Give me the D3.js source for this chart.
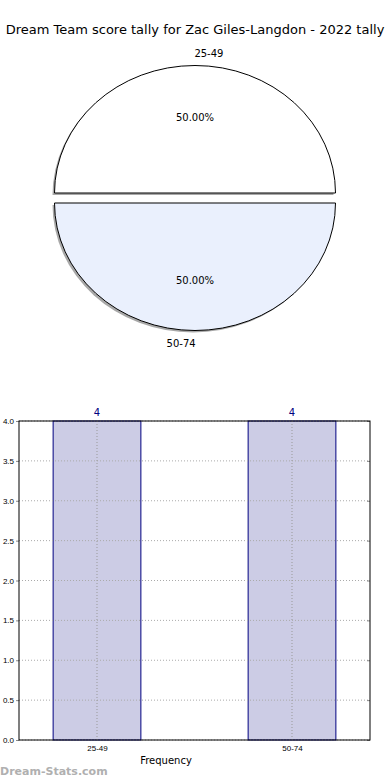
<!DOCTYPE html>
<html>
<head>
<meta charset="utf-8">
<script src="https://cdn.jsdelivr.net/npm/d3@7"></script>
<style>
	body { margin: 0; background: #fff; }
	svg { display: block; font-family: "DejaVu Sans", sans-serif; }
</style>
</head>
<body>
<div id="chart-area"></div>
<script>
// Chart data
var titleText  = "Dream Team score tally for Zac Giles-Langdon - 2022 tally";
var categories = ["25-49", "50-74"];
var counts     = [4, 4];
var pieColors  = ["#ffffff", "#eaf0fd"];
var yTicks     = [0, 0.5, 1, 1.5, 2, 2.5, 3, 3.5, 4];

var W = 390, H = 780;

var svg = d3.select("#chart-area")
	.append("svg")
		.attr("width", W)
		.attr("height", H);

// Title
svg.append("text")
	.attr("x", 195)
	.attr("y", 34)
	.attr("text-anchor", "middle")
	.attr("font-size", "13px")
	.text(titleText);


// ---- Pie (elliptical, exploded) ----
var cx = 195, cy = 198, rx = 140.5, ry = 127.5, explode = 5;
var pie = d3.pie().sort(null).startAngle(-Math.PI / 2).endAngle(1.5 * Math.PI);
var arcs = pie(counts);
var arc = d3.arc().innerRadius(0).outerRadius(rx);
var total = d3.sum(counts);

var pieG = svg.append("g")
	.attr("transform", "translate(" + cx + "," + cy + ")");

function sliceOffset(d) {
	var mid = (d.startAngle + d.endAngle) / 2;
	return [Math.sin(mid) * explode, -Math.cos(mid) * explode];
}

// shadows first
pieG.selectAll("path.shadow")
	.data(arcs)
	.enter()
	.append("path")
		.attr("class", "shadow")
		.attr("d", arc)
		.attr("fill", "#999")
		.attr("opacity", 0.85)
		.attr("transform", function(d) {
			var o = sliceOffset(d);
			return "translate(" + (o[0] - 2) + "," + (o[1] + 2) + ") scale(1," + (ry / rx) + ")";
		});

pieG.selectAll("path.slice")
	.data(arcs)
	.enter()
	.append("path")
		.attr("class", "slice")
		.attr("d", arc)
		.attr("fill", function(d, i) { return pieColors[i]; })
		.attr("stroke", "#000")
		.attr("stroke-width", 1)
		.attr("vector-effect", "non-scaling-stroke")
		.attr("transform", function(d) {
			var o = sliceOffset(d);
			return "translate(" + o[0] + "," + o[1] + ") scale(1," + (ry / rx) + ")";
		});

// percentage labels
pieG.selectAll("text.pct")
	.data(arcs)
	.enter()
	.append("text")
		.attr("class", "pct")
		.attr("x", function(d) { var mid = (d.startAngle + d.endAngle) / 2; return Math.sin(mid) * rx * 0.6 + sliceOffset(d)[0]; })
		.attr("y", function(d) { var mid = (d.startAngle + d.endAngle) / 2; return -Math.cos(mid) * ry * 0.6 + sliceOffset(d)[1] + 4; })
		.attr("text-anchor", "middle")
		.attr("font-size", "10px")
		.text(function(d) { return (100 * d.value / total).toFixed(2) + "%"; });

// category labels (slightly rotated position like the original)
pieG.selectAll("text.cat")
	.data(arcs)
	.enter()
	.append("text")
		.attr("class", "cat")
		.attr("x", function(d) { var mid = (d.startAngle + d.endAngle) / 2 + 0.09; return Math.sin(mid) * rx * 1.1; })
		.attr("y", function(d) { var mid = (d.startAngle + d.endAngle) / 2 + 0.09; return -Math.cos(mid) * ry * 1.14 + 4; })
		.attr("text-anchor", "middle")
		.attr("font-size", "10px")
		.text(function(d, i) { return categories[i]; });


// ---- Bar chart ----
var margin = { top: 421, left: 19, right: 20, bottom: 40 };
var bw = W - margin.left - margin.right;
var bh = 740 - margin.top;

var g = svg.append("g")
	.attr("transform", "translate(" + margin.left + "," + margin.top + ")");

var x = d3.scaleLinear().domain([-0.4, 1.4]).range([0, bw]);
var y = d3.scaleLinear().domain([0, 4]).range([bh, 0]);
var barWidth = 0.45;

// bars
g.selectAll("rect.bar")
	.data(counts)
	.enter()
	.append("rect")
		.attr("class", "bar")
		.attr("x", function(d, i) { return x(i - barWidth / 2); })
		.attr("width", x(barWidth) - x(0))
		.attr("y", function(d) { return y(d); })
		.attr("height", function(d) { return bh - y(d); })
		.attr("fill", "#ccccE5")
		.attr("stroke", "#000080")
		.attr("stroke-width", 1);

// grid lines (drawn over bars)
g.selectAll("line.hgrid")
	.data(yTicks)
	.enter()
	.append("line")
		.attr("class", "hgrid")
		.attr("x1", 0).attr("x2", bw)
		.attr("y1", function(d) { return y(d); })
		.attr("y2", function(d) { return y(d); })
		.attr("stroke", "#aaa")
		.attr("stroke-dasharray", "1,2");

g.selectAll("line.vgrid")
	.data(categories)
	.enter()
	.append("line")
		.attr("class", "vgrid")
		.attr("x1", function(d, i) { return x(i); })
		.attr("x2", function(d, i) { return x(i); })
		.attr("y1", 0).attr("y2", bh)
		.attr("stroke", "#999")
		.attr("stroke-dasharray", "1,2");

// y axis
var yAxis = d3.axisLeft(y)
	.tickValues(yTicks)
	.tickSize(3)
	.tickPadding(2)
	.tickFormat(d3.format(".1f"));
var yAxisG = g.append("g").call(yAxis);
yAxisG.select(".domain").remove();
yAxisG.selectAll("text").attr("font-size", "8px").attr("font-family", "'Liberation Sans', sans-serif").attr("fill", "#000");
yAxisG.selectAll("line").attr("stroke", "#888");

// right ticks (inside)
var yAxisR = d3.axisLeft(y).tickValues(yTicks).tickSize(3).tickFormat("");
var yAxisRG = g.append("g").attr("transform", "translate(" + bw + ",0)").call(yAxisR);
yAxisRG.select(".domain").remove();
yAxisRG.selectAll("line").attr("stroke", "#888");

// x axis
var xAxis = d3.axisBottom(x)
	.tickValues([0, 1])
	.tickSize(0)
	.tickPadding(5)
	.tickFormat(function(d) { return categories[d]; });
var xAxisG = g.append("g").attr("transform", "translate(0," + bh + ")").call(xAxis);
xAxisG.select(".domain").remove();
xAxisG.selectAll("text").attr("font-size", "8px").attr("font-family", "'Liberation Sans', sans-serif").attr("fill", "#000");

// frame
g.append("rect")
	.attr("x", 0).attr("y", 0)
	.attr("width", bw).attr("height", bh)
	.attr("fill", "none")
	.attr("stroke", "#000")
	.attr("stroke-width", 1);

// value labels above bars
g.selectAll("text.val")
	.data(counts)
	.enter()
	.append("text")
		.attr("class", "val")
		.attr("x", function(d, i) { return x(i); })
		.attr("y", function(d) { return y(d) - 5; })
		.attr("text-anchor", "middle")
		.attr("font-size", "10px")
		.attr("fill", "#000080")
		.text(function(d) { return d; });

// x label
svg.append("text")
	.attr("x", 166)
	.attr("y", 764)
	.attr("text-anchor", "middle")
	.attr("font-size", "10px")
	.text("Frequency");

// watermark
svg.append("text")
	.attr("x", 0)
	.attr("y", 775)
	.attr("font-size", "11px")
	.attr("font-weight", "bold")
	.attr("fill", "#b0b0b0")
	.text("Dream-Stats.com");
</script>
</body>
</html>
